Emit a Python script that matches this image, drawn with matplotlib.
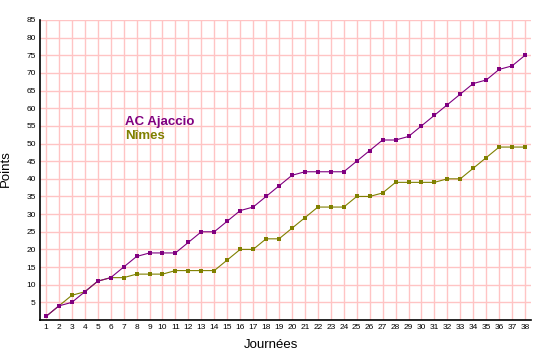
import matplotlib
matplotlib.use("Agg")
import matplotlib.pyplot as plt

plt.rcParams['font.family'] = ['Liberation Sans', 'DejaVu Sans']

rounds = list(range(1, 39))
ajaccio = [1, 4, 5, 8, 11, 12, 15, 18, 19, 19, 19, 22, 25, 25, 28, 31, 32, 35, 38, 41,
           42, 42, 42, 42, 45, 48, 51, 51, 52, 55, 58, 61, 64, 67, 68, 71, 72, 75]
nimes = [1, 4, 7, 8, 11, 12, 12, 13, 13, 13, 14, 14, 14, 14, 17, 20, 20, 23, 23, 26,
         29, 32, 32, 32, 35, 35, 36, 39, 39, 39, 39, 40, 40, 43, 46, 49, 49, 49]
yticks = list(range(5, 90, 5))
series_names = ["AC Ajaccio", "Nîmes"]
colors = ["#800080", "#808000"]

fig = plt.figure(figsize=(5.35, 3.6), dpi=100)
ax = fig.add_axes([40/535, 40/360, 491/535, 300/360])

ax.set_xlim(0.54, 38.46)
ax.set_ylim(0, 85)
ax.set_xticks(rounds)
ax.set_yticks(yticks)
ax.grid(True, color="#ffc4c4", linewidth=1.0)
ax.set_axisbelow(True)
ax.tick_params(length=0, labelsize=6, pad=3)

for s, c in zip([nimes, ajaccio], [colors[1], colors[0]]):
    ax.plot(rounds, s, color=c, linewidth=0.8, marker="s", markersize=2.8,
            markeredgewidth=0, zorder=3)

for sp in ["top", "right"]:
    ax.spines[sp].set_visible(False)
for sp in ["left", "bottom"]:
    ax.spines[sp].set_color("black")
    ax.spines[sp].set_linewidth(1.2)

fig.text(6/535, 1 - 169/360, "Points", fontsize=9.5, ha="center", va="center",
         rotation=90)
fig.text(271/535, 1 - 345/360, "Journées", fontsize=9.5, ha="center", va="center")

ax.text(0.173, 0.66, series_names[0], transform=ax.transAxes, color=colors[0],
        fontsize=9.5, fontweight="bold", va="center", ha="left")
ax.text(0.173, 0.613, series_names[1], transform=ax.transAxes, color=colors[1],
        fontsize=9.5, fontweight="bold", va="center", ha="left")

fig.savefig("out.png", dpi=100)
